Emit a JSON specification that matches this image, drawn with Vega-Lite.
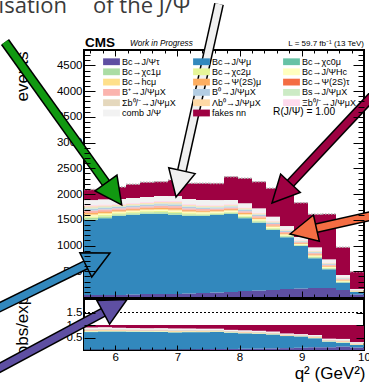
{
"$schema": "https://vega.github.io/schema/vega-lite/v6.json",
"width": 280,
"height": 300,
"autosize": {"type": "none"},
"padding": {"left": 84, "top": 50, "right": 5, "bottom": 33},
"background": "white",
"config": {
  "view": {"stroke": "black", "strokeWidth": 2},
  "font": "Liberation Sans",
  "axis": {"domain": false, "grid": false, "labelFont": "Liberation Sans", "labelColor": "black", "tickColor": "black", "titleColor": "black", "titleFont": "Liberation Sans", "titleFontWeight": "normal", "tickWidth": 1, "labelFlush": false, "labelOverlap": false}
},
"datasets": {
  "h": [
    {"lo":5.5,"hi":5.725,"c00":39,"c01":1457,"c02":6,"c03":35,"c04":29,"c05":23,"c06":17,"c07":29,"c08":9,"c09":38,"c10":35,"c11":15,"c12":15,"c13":17,"c14":23,"c15":97,"c16":204},
    {"lo":5.725,"hi":5.95,"c00":39,"c01":1490,"c02":5,"c03":33,"c04":27,"c05":22,"c06":16,"c07":27,"c08":8,"c09":35,"c10":33,"c11":14,"c12":14,"c13":16,"c14":22,"c15":97,"c16":181},
    {"lo":5.95,"hi":6.175,"c00":39,"c01":1535,"c02":5,"c03":28,"c04":23,"c05":19,"c06":14,"c07":23,"c08":7,"c09":30,"c10":28,"c11":12,"c12":12,"c13":14,"c14":18,"c15":97,"c16":233},
    {"lo":6.175,"hi":6.4,"c00":49,"c01":1545,"c02":5,"c03":28,"c04":23,"c05":19,"c06":14,"c07":23,"c08":7,"c09":30,"c10":28,"c11":12,"c12":12,"c13":14,"c14":18,"c15":97,"c16":266},
    {"lo":6.4,"hi":6.625,"c00":58,"c01":1555,"c02":5,"c03":28,"c04":23,"c05":19,"c06":14,"c07":23,"c08":7,"c09":30,"c10":28,"c11":12,"c12":12,"c13":14,"c14":18,"c15":97,"c16":286},
    {"lo":6.625,"hi":6.85,"c00":58,"c01":1555,"c02":5,"c03":30,"c04":25,"c05":20,"c06":15,"c07":25,"c08":8,"c09":33,"c10":30,"c11":13,"c12":13,"c13":15,"c14":21,"c15":97,"c16":278},
    {"lo":6.85,"hi":7.075,"c00":58,"c01":1535,"c02":5,"c03":33,"c04":27,"c05":22,"c06":16,"c07":27,"c08":8,"c09":35,"c10":33,"c11":14,"c12":14,"c13":16,"c14":22,"c15":97,"c16":311},
    {"lo":7.075,"hi":7.3,"c00":68,"c01":1506,"c02":5,"c03":28,"c04":23,"c05":19,"c06":14,"c07":23,"c08":7,"c09":30,"c10":28,"c11":12,"c12":12,"c13":14,"c14":18,"c15":97,"c16":305},
    {"lo":7.3,"hi":7.525,"c00":78,"c01":1496,"c02":4,"c03":26,"c04":21,"c05":17,"c06":13,"c07":21,"c08":6,"c09":28,"c10":26,"c11":11,"c12":11,"c13":13,"c14":17,"c15":97,"c16":324},
    {"lo":7.525,"hi":7.75,"c00":87,"c01":1506,"c02":4,"c03":23,"c04":19,"c05":16,"c06":12,"c07":19,"c08":6,"c09":25,"c10":23,"c11":10,"c12":10,"c13":12,"c14":15,"c15":97,"c16":324},
    {"lo":7.75,"hi":7.975,"c00":97,"c01":1516,"c02":4,"c03":23,"c04":19,"c05":16,"c06":12,"c07":19,"c08":6,"c09":25,"c10":23,"c11":10,"c12":10,"c13":12,"c14":15,"c15":78,"c16":453},
    {"lo":7.975,"hi":8.2,"c00":117,"c01":1413,"c02":4,"c03":26,"c04":21,"c05":17,"c06":13,"c07":21,"c08":6,"c09":28,"c10":26,"c11":11,"c12":11,"c13":13,"c14":17,"c15":78,"c16":486},
    {"lo":8.2,"hi":8.425,"c00":126,"c01":1317,"c02":4,"c03":24,"c04":20,"c05":16,"c06":12,"c07":20,"c08":6,"c09":26,"c10":24,"c11":10,"c12":10,"c13":12,"c14":18,"c15":78,"c16":517},
    {"lo":8.425,"hi":8.65,"c00":136,"c01":1166,"c02":4,"c03":22,"c04":18,"c05":14,"c06":11,"c07":18,"c08":5,"c09":24,"c10":22,"c11":9,"c12":9,"c13":11,"c14":14,"c15":78,"c16":552},
    {"lo":8.65,"hi":8.875,"c00":155,"c01":1005,"c02":3,"c03":19,"c04":16,"c05":13,"c06":10,"c07":16,"c08":5,"c09":21,"c10":19,"c11":8,"c12":8,"c13":10,"c14":13,"c15":58,"c16":700},
    {"lo":8.875,"hi":9.1,"c00":165,"c01":826,"c02":2,"c03":14,"c04":12,"c05":9,"c06":7,"c07":12,"c08":4,"c09":15,"c10":14,"c11":6,"c12":6,"c13":7,"c14":9,"c15":58,"c16":666},
    {"lo":9.1,"hi":9.325,"c00":175,"c01":577,"c02":3,"c03":19,"c04":16,"c05":12,"c06":9,"c07":16,"c08":5,"c09":20,"c10":19,"c11":8,"c12":8,"c13":9,"c14":11,"c15":58,"c16":641},
    {"lo":9.325,"hi":9.55,"c00":175,"c01":363,"c02":3,"c03":16,"c04":14,"c05":11,"c06":8,"c07":14,"c08":4,"c09":18,"c10":16,"c11":7,"c12":7,"c13":8,"c14":10,"c15":58,"c16":880},
    {"lo":9.55,"hi":9.775,"c00":136,"c01":142,"c02":2,"c03":13,"c04":11,"c05":9,"c06":7,"c07":11,"c08":3,"c09":14,"c10":13,"c11":6,"c12":6,"c13":7,"c14":9,"c15":39,"c16":538},
    {"lo":9.775,"hi":10.0,"c00":49,"c01":49,"c02":1,"c03":5,"c04":4,"c05":3,"c06":2,"c07":4,"c08":1,"c09":5,"c10":5,"c11":2,"c12":2,"c13":2,"c14":3,"c15":19,"c16":336}
  ],
  "comp": [
    {"k":"c00","n":"Bc→J/Ψτ","o":0},
    {"k":"c01","n":"Bc→J/Ψμ","o":1},
    {"k":"c02","n":"Bc→χc0μ","o":2},
    {"k":"c03","n":"Bc→χc1μ","o":3},
    {"k":"c04","n":"Bc→χc2μ","o":4},
    {"k":"c05","n":"Bc→J/ΨHc","o":5},
    {"k":"c06","n":"Bc→hcμ","o":6},
    {"k":"c07","n":"Bc→Ψ(2S)μ","o":7},
    {"k":"c08","n":"Bc→Ψ(2S)τ","o":8},
    {"k":"c09","n":"B⁺→J/ΨμX","o":9},
    {"k":"c10","n":"B⁰→J/ΨμX","o":10},
    {"k":"c11","n":"Bs→J/ΨμX","o":11},
    {"k":"c12","n":"Σb⁰/⁻→J/ΨμX","o":12},
    {"k":"c13","n":"Λb⁰→J/ΨμX","o":13},
    {"k":"c14","n":"Ξb⁰/⁻→J/ΨμX","o":14},
    {"k":"c15","n":"comb J/Ψ","o":15},
    {"k":"c16","n":"fakes nn","o":16}
  ],
  "arr": [
    {"x":4.230,"y":4955,"x2":5.863,"y2":2198,"tx":6.106,"ty":1788,"a":144.4,"c":"#119911"},
    {"x":7.670,"y":5694,"x2":7.070,"y2":2437,"tx":6.979,"ty":1943,"a":192.6,"c":"#f0f0f0"},
    {"x":10.257,"y":4062,"x2":8.807,"y2":2196,"tx":8.521,"ty":1827,"a":223.2,"c":"#9e0142"},
    {"x":10.257,"y":1613,"x2":9.219,"y2":1333,"tx":8.811,"ty":1224,"a":257.5,"c":"#f46d43"},
    {"x":3.989,"y":-291,"x2":5.543,"y2":632,"tx":5.918,"ty":855,"a":63.8,"c":"#3288bd"},
    {"x":3.989,"y":-1477,"x2":5.823,"y2":-288,"tx":6.191,"ty":-49,"a":61.8,"c":"#5e4fa2"}
  ]
},
"layer": [
  {
    "layer": [
      {
        "data": {"name": "h"},
        "transform": [
          {"fold": ["c00","c01","c02","c03","c04","c05","c06","c07","c08","c09","c10","c11","c12","c13","c14","c15","c16"], "as": ["k","v"]},
          {"lookup": "k", "from": {"data": {"name": "comp"}, "key": "k", "fields": ["n","o"]}},
          {"stack": "v", "groupby": ["lo"], "sort": [{"field": "o", "order": "ascending"}], "as": ["y0","y1"]}
        ],
        "mark": {"type": "rect"},
        "encoding": {
          "x": {"field": "lo", "type": "quantitative", "scale": {"domain": [5.5,10], "nice": false, "zero": false}, "axis": {"orient": "bottom", "offset": -53, "values": [6,7,8,9,10], "tickSize": -6, "labels": false, "title": null, "zindex": 1}},
          "x2": {"field": "hi"},
          "y": {"field": "y0", "type": "quantitative", "scale": {"domain": [-1030,4800], "nice": false, "zero": false}, "axis": {"orient": "left", "values": [500,1000,1500,2000,2500,3000,3500,4000,4500], "format": "d", "ticks": false, "labelPadding": 2, "labelFontSize": 11.5, "title": "events", "titleFontSize": 17, "titleX": -62, "titleY": 26, "titleAngle": 270, "titleAlign": "center", "titleBaseline": "middle", "zindex": 0}},
          "y2": {"field": "y1"},
          "color": {"field": "n", "type": "nominal",
            "scale": {"domain": ["Bc→J/Ψτ","Bc→J/Ψμ","Bc→χc0μ","Bc→χc1μ","Bc→χc2μ","Bc→J/ΨHc","Bc→hcμ","Bc→Ψ(2S)μ","Bc→Ψ(2S)τ","B⁺→J/ΨμX","B⁰→J/ΨμX","Bs→J/ΨμX","Σb⁰/⁻→J/ΨμX","Λb⁰→J/ΨμX","Ξb⁰/⁻→J/ΨμX","comb J/Ψ","fakes nn"],
                      "range": ["#5e4fa2","#3288bd","#66c2a5","#abdda4","#e6f598","#ffffbf","#fee08b","#fdae61","#f46d43","#fbb4ae","#b3cde3","#ccebc5","#e5d8bd","#fed9a6","#fddaec","#f2f2f2","#9e0142"]},
            "legend": {"orient": "none", "legendX": 23, "legendY": 7, "columns": 3, "direction": "horizontal", "title": null, "symbolType": "M-2.1,-0.85H2.1V0.85H-2.1Z", "symbolSize": 64, "symbolStrokeWidth": 0, "symbolOpacity": 1, "labelFontSize": 9, "labelFont": "Liberation Sans", "labelColor": "black", "labelOffset": 6, "rowPadding": 0.3, "columnPadding": 16, "gridAlign": "all", "padding": 0, "labelLimit": 200}}
        }
      },
      {
        "data": {"name": "h"},
        "transform": [
          {"fold": ["c00","c01","c02","c03","c04","c05","c06","c07","c08","c09","c10","c11","c12","c13","c14","c15","c16"], "as": ["k","v"]},
          {"aggregate": [{"op": "sum", "field": "v", "as": "tot"}], "groupby": ["lo","hi"]}
        ],
        "mark": {"type": "rule", "color": "#b0b0b0", "strokeWidth": 1.5, "strokeDash": [1.5,1.5]},
        "encoding": {
          "x": {"field": "lo", "type": "quantitative", "scale": {"domain": [5.5,10], "nice": false, "zero": false}, "axis": {"orient": "top", "values": [6,7,8,9,10], "tickSize": -6, "labels": false, "title": null, "zindex": 1}},
          "x2": {"field": "hi"},
          "y": {"field": "tot", "type": "quantitative", "scale": {"domain": [-1030,4800], "nice": false, "zero": false}, "axis": {"orient": "right", "values": [500,1000,1500,2000,2500,3000,3500,4000,4500], "tickSize": -11, "labels": false, "title": null, "zindex": 1}}
        }
      },
      {
        "data": {"values": [{}]},
        "mark": {"type": "rule", "color": "black", "strokeWidth": 3},
        "encoding": {
          "x": {"datum": 5.5, "type": "quantitative", "scale": {"domain": [5.5,10], "nice": false, "zero": false}, "axis": {"orient": "bottom", "offset": -53, "values": [5.6,5.8,6.2,6.4,6.6,6.8,7.2,7.4,7.6,7.8,8.2,8.4,8.6,8.8,9.2,9.4,9.6,9.8], "tickSize": -3, "labels": false, "title": null, "zindex": 1}},
          "x2": {"datum": 10},
          "y": {"datum": -29, "type": "quantitative", "scale": {"domain": [-1030,4800], "nice": false, "zero": false}, "axis": {"orient": "left", "values": [100,200,300,400,600,700,800,900,1100,1200,1300,1400,1600,1700,1800,1900,2100,2200,2300,2400,2600,2700,2800,2900,3100,3200,3300,3400,3600,3700,3800,3900,4100,4200,4300,4400,4600,4700], "tickSize": -6, "labels": false, "title": null, "zindex": 1}}
        }
      },
      {
        "data": {"values": [{}]},
        "mark": {"type": "text", "text": "CMS", "font": "Liberation Sans", "fontWeight": "bold", "fontSize": 13.5, "align": "left", "baseline": "alphabetic", "color": "black"},
        "encoding": {
          "x": {"datum": 5.516, "type": "quantitative", "scale": {"domain": [5.5,10], "nice": false, "zero": false}, "axis": {"orient": "top", "values": [5.6,5.8,6.2,6.4,6.6,6.8,7.2,7.4,7.6,7.8,8.2,8.4,8.6,8.8,9.2,9.4,9.6,9.8], "tickSize": -3, "labels": false, "title": null, "zindex": 1}},
          "y": {"datum": 4858, "type": "quantitative", "scale": {"domain": [-1030,4800], "nice": false, "zero": false}, "axis": {"orient": "right", "values": [100,200,300,400,600,700,800,900,1100,1200,1300,1400,1600,1700,1800,1900,2100,2200,2300,2400,2600,2700,2800,2900,3100,3200,3300,3400,3600,3700,3800,3900,4100,4200,4300,4400,4600,4700], "tickSize": -6, "labels": false, "title": null, "zindex": 1}}
        }
      },
      {
        "data": {"values": [{}]},
        "mark": {"type": "text", "text": "Work in Progress", "font": "Liberation Sans", "fontStyle": "italic", "fontSize": 8.2, "align": "left", "baseline": "alphabetic", "color": "black"},
        "encoding": {
          "x": {"datum": 6.239, "type": "quantitative", "scale": {"domain": [5.5,10], "nice": false, "zero": false}, "axis": null},
          "y": {"datum": 4878, "type": "quantitative", "scale": {"domain": [-1030,4800], "nice": false, "zero": false}, "axis": {"orient": "left", "values": [500,1000,1500,2000,2500,3000,3500,4000,4500], "tickSize": -11, "labels": false, "title": null, "zindex": 1}}
        }
      },
      {
        "data": {"values": [{}]},
        "mark": {"type": "text", "text": "L = 59.7 fb⁻¹ (13 TeV)", "font": "Liberation Sans", "fontSize": 8, "align": "right", "baseline": "alphabetic", "color": "black"},
        "encoding": {
          "x": {"datum": 10.0, "type": "quantitative", "scale": {"domain": [5.5,10], "nice": false, "zero": false}, "axis": null},
          "y": {"datum": 4878, "type": "quantitative", "scale": {"domain": [-1030,4800], "nice": false, "zero": false}, "axis": null}
        }
      },
      {
        "data": {"values": [{}]},
        "mark": {"type": "text", "text": "R(J/Ψ) = 1.00", "font": "Liberation Sans", "fontSize": 10.2, "align": "left", "baseline": "alphabetic", "color": "black"},
        "encoding": {
          "x": {"datum": 8.538, "type": "quantitative", "scale": {"domain": [5.5,10], "nice": false, "zero": false}, "axis": null},
          "y": {"datum": 3530, "type": "quantitative", "scale": {"domain": [-1030,4800], "nice": false, "zero": false}, "axis": null}
        }
      },
      {
        "data": {"values": [{}]},
        "mark": {"type": "text", "text": "isation", "font": "Open Sans", "fontSize": 22, "align": "right", "baseline": "alphabetic", "color": "#3a3a3a"},
        "encoding": {
          "x": {"datum": 5.227, "type": "quantitative", "scale": {"domain": [5.5,10], "nice": false, "zero": false}, "axis": null},
          "y": {"datum": 5519, "type": "quantitative", "scale": {"domain": [-1030,4800], "nice": false, "zero": false}, "axis": null}
        }
      },
      {
        "data": {"values": [{}]},
        "mark": {"type": "text", "text": "of the J/Ψ", "font": "Open Sans", "fontSize": 22, "align": "left", "baseline": "alphabetic", "color": "#3a3a3a"},
        "encoding": {
          "x": {"datum": 5.645, "type": "quantitative", "scale": {"domain": [5.5,10], "nice": false, "zero": false}, "axis": null},
          "y": {"datum": 5519, "type": "quantitative", "scale": {"domain": [-1030,4800], "nice": false, "zero": false}, "axis": null}
        }
      }
    ],
    "resolve": {"axis": {"x": "independent", "y": "independent"}}
  },
  {
    "layer": [
      {
        "data": {"name": "h"},
        "transform": [
          {"fold": ["c00","c01","c02","c03","c04","c05","c06","c07","c08","c09","c10","c11","c12","c13","c14","c15","c16"], "as": ["k","v"]},
          {"lookup": "k", "from": {"data": {"name": "comp"}, "key": "k", "fields": ["n","o"]}},
          {"stack": "v", "groupby": ["lo"], "sort": [{"field": "o", "order": "ascending"}], "offset": "normalize", "as": ["y0","y1"]}
        ],
        "mark": {"type": "rect"},
        "encoding": {
          "x": {"field": "lo", "type": "quantitative", "scale": {"domain": [5.5,10], "nice": false, "zero": false}, "axis": {"orient": "bottom", "values": [6,7,8,9,10], "ticks": false, "labelPadding": 1, "labelFontSize": 11.5, "title": "q² (GeV²)", "titleFontSize": 17, "titleX": 281, "titleY": 28, "titleAlign": "right", "titleBaseline": "alphabetic", "titleAngle": 0, "zindex": 0}},
          "x2": {"field": "hi"},
          "y": {"field": "y0", "type": "quantitative", "scale": {"domain": [0,12], "nice": false, "zero": false}, "axis": {"orient": "left", "values": [0.5,1,1.5], "format": ".1f", "ticks": false, "labelPadding": 2, "labelFontSize": 11.5, "title": "obs/exp", "titleFontSize": 17, "titleX": -62, "titleY": 275, "titleAngle": 270, "titleAlign": "center", "titleBaseline": "middle", "zindex": 0}},
          "y2": {"field": "y1"},
          "color": {"field": "n", "type": "nominal",
            "scale": {"domain": ["Bc→J/Ψτ","Bc→J/Ψμ","Bc→χc0μ","Bc→χc1μ","Bc→χc2μ","Bc→J/ΨHc","Bc→hcμ","Bc→Ψ(2S)μ","Bc→Ψ(2S)τ","B⁺→J/ΨμX","B⁰→J/ΨμX","Bs→J/ΨμX","Σb⁰/⁻→J/ΨμX","Λb⁰→J/ΨμX","Ξb⁰/⁻→J/ΨμX","comb J/Ψ","fakes nn"],
                      "range": ["#5e4fa2","#3288bd","#66c2a5","#abdda4","#e6f598","#ffffbf","#fee08b","#fdae61","#f46d43","#fbb4ae","#b3cde3","#ccebc5","#e5d8bd","#fed9a6","#fddaec","#f2f2f2","#9e0142"]},
            "legend": {"orient": "none", "legendX": 23, "legendY": 7, "columns": 3, "direction": "horizontal", "title": null, "symbolType": "M-2.1,-0.85H2.1V0.85H-2.1Z", "symbolSize": 64, "symbolStrokeWidth": 0, "symbolOpacity": 1, "labelFontSize": 9, "labelFont": "Liberation Sans", "labelColor": "black", "labelOffset": 6, "rowPadding": 0.3, "columnPadding": 16, "gridAlign": "all", "padding": 0, "labelLimit": 200}}
        }
      },
      {
        "data": {"values": [{}]},
        "mark": {"type": "rule", "color": "black", "strokeWidth": 1, "strokeDash": [2,2]},
        "encoding": {
          "x": {"datum": 5.5, "type": "quantitative", "scale": {"domain": [5.5,10], "nice": false, "zero": false}, "axis": {"orient": "bottom", "values": [6,7,8,9,10], "tickSize": -5, "labels": false, "title": null, "zindex": 1}},
          "x2": {"datum": 10},
          "y": {"datum": 1.5, "type": "quantitative", "scale": {"domain": [0,12], "nice": false, "zero": false}, "axis": {"orient": "left", "values": [0.5,1,1.5], "tickSize": -11, "labels": false, "title": null, "zindex": 1}}
        }
      },
      {
        "data": {"values": [{}]},
        "mark": {"type": "text", "text": ""},
        "encoding": {
          "x": {"datum": 5.5, "type": "quantitative", "scale": {"domain": [5.5,10], "nice": false, "zero": false}, "axis": {"orient": "bottom", "values": [5.6,5.8,6.2,6.4,6.6,6.8,7.2,7.4,7.6,7.8,8.2,8.4,8.6,8.8,9.2,9.4,9.6,9.8], "tickSize": -3, "labels": false, "title": null, "zindex": 1}},
          "y": {"datum": 1, "type": "quantitative", "scale": {"domain": [0,12], "nice": false, "zero": false}, "axis": {"orient": "right", "values": [0.5,1,1.5], "tickSize": -8, "labels": false, "title": null, "zindex": 1}}
        }
      }
    ],
    "resolve": {"axis": {"x": "independent", "y": "independent"}}
  },
  {
    "data": {"name": "arr"},
    "layer": [
      {
        "mark": {"type": "rule", "color": "black", "strokeWidth": 10, "strokeCap": "butt"},
        "encoding": {
          "x": {"field": "x", "type": "quantitative", "scale": {"domain": [5.5,10], "nice": false, "zero": false}, "axis": null},
          "y": {"field": "y", "type": "quantitative", "scale": {"domain": [-1030,4800], "nice": false, "zero": false}, "axis": null},
          "x2": {"field": "x2"},
          "y2": {"field": "y2"}
        }
      },
      {
        "mark": {"type": "rule", "strokeWidth": 7, "strokeCap": "butt"},
        "encoding": {
          "x": {"field": "x", "type": "quantitative", "scale": {"domain": [5.5,10], "nice": false, "zero": false}, "axis": null},
          "y": {"field": "y", "type": "quantitative", "scale": {"domain": [-1030,4800], "nice": false, "zero": false}, "axis": null},
          "x2": {"field": "x2"},
          "y2": {"field": "y2"},
          "color": {"field": "c", "type": "nominal", "scale": null}
        }
      },
      {
        "mark": {"type": "point", "filled": true, "stroke": "black", "strokeWidth": 1.5, "opacity": 1, "shape": "M0,0L-0.5,1L0.5,1Z", "size": 2916},
        "encoding": {
          "x": {"field": "tx", "type": "quantitative", "scale": {"domain": [5.5,10], "nice": false, "zero": false}, "axis": null},
          "y": {"field": "ty", "type": "quantitative", "scale": {"domain": [-1030,4800], "nice": false, "zero": false}, "axis": null},
          "angle": {"field": "a", "type": "quantitative", "scale": null},
          "fill": {"field": "c", "type": "nominal", "scale": null}
        }
      }
    ],
    "resolve": {"axis": {"x": "independent", "y": "independent"}}
  }
],
"resolve": {"scale": {"y": "independent"}, "axis": {"x": "independent", "y": "independent"}}
}
